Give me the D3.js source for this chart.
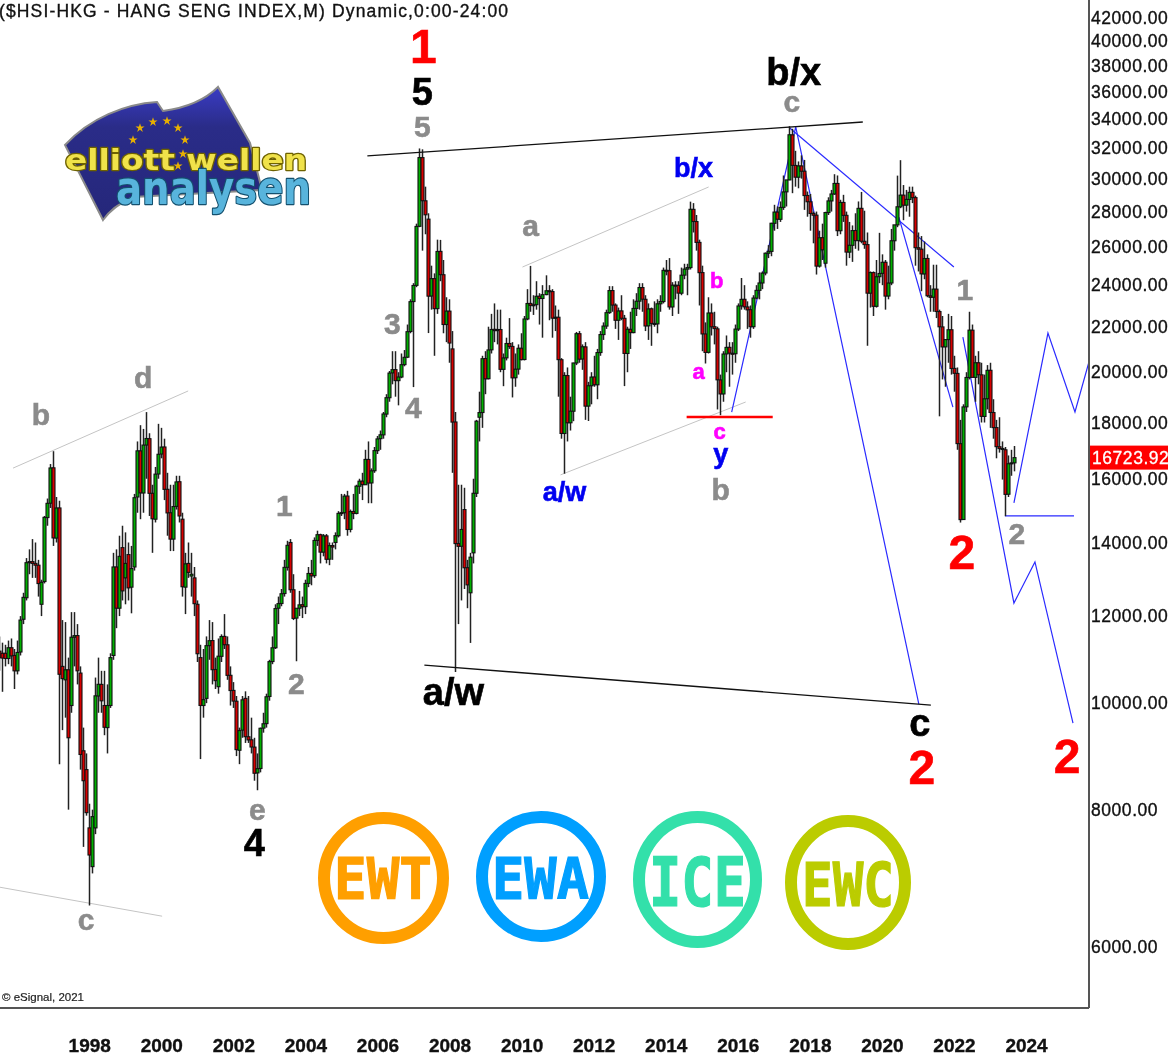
<!DOCTYPE html>
<html>
<head>
<meta charset="utf-8">
<script src="https://cdn.jsdelivr.net/npm/d3@7"></script>
<style>
	html, body { margin: 0; padding: 0; background: #fff; }
	svg { display: block; font-family: "Liberation Sans", Arial, sans-serif; filter: blur(0.35px); }
	.wave { font-weight: bold; text-anchor: middle; dominant-baseline: central; stroke-width: 0.6; }
	.axis text { fill: #111; stroke: #111; stroke-width: 0.35; }
	.axis path, .axis line { display: none; }
</style>
</head>
<body>
<div id="chart"></div>
<script>
// monthly bars, first bar is Feb 1996, last is Apr 2024
const opens = [
	11150,11100,11100,10980,11230,11050,10700,11130,11920,12470,13420,
	13450,13400,13350,12300,12900,14750,15200,16370,14130,15050,10800,10500,
	10723,9950,11480,11520,10650,9050,8700,7700,7100,7700,10150,10400,
	9950,9500,9950,11050,13300,12200,13850,13000,13650,12750,13300,15400,
	16962,15530,17170,17400,15520,14700,16160,16850,17100,15650,14900,14100,
	15100,15900,14700,12750,13400,13050,13000,12300,11000,9950,10100,11280,
	11400,10730,10350,11030,11500,11300,10600,10270,10040,9060,9450,10100,
	9320,9260,9120,8640,8720,9490,9580,10140,10910,11230,12200,12320,
	12580,13290,14000,12680,11950,12200,12290,12240,12850,13120,13060,14060,
	14230,13720,14195,13520,13910,14000,14200,14880,14900,15430,14390,14940,
	14880,15750,15920,15800,16660,15860,16270,16970,17400,17540,18320,18960,
	19970,20110,19650,19800,20320,20640,21780,23190,23990,27150,31350,28640,
	27560,23460,24330,22850,25760,24530,22100,22730,21000,18020,13970,13890,
	15000,13280,12600,13700,15520,18200,18380,20580,19730,20960,21880,21820,
	21870,20120,20610,21240,21110,19770,20130,21030,20540,22360,23100,23000,
	23040,23450,23340,23530,23720,23680,22400,22440,20530,17590,19860,17990,
	18430,20390,21680,20560,21090,18630,19440,19800,19480,20840,21640,22030,
	22660,23730,23020,22300,22740,22390,20800,21880,21730,22860,23210,23880,
	23300,22040,22840,22150,22130,23080,23190,24760,24740,22930,24000,23990,
	23600,24510,24820,24900,28130,27420,26250,24640,21670,20850,22640,22000,
	21900,19680,19110,20780,21070,20810,20790,21890,22980,23300,22930,22800,
	22000,23360,23740,24110,24620,25660,25760,27320,27970,27550,28250,29180,
	29920,32880,30840,30090,30810,30470,28960,28580,27890,27790,24980,26510,
	25130,27940,28630,29050,29700,26900,28540,27780,25720,26090,26910,26350,
	28190,26310,26130,23600,24640,22960,24430,24600,25180,23460,24110,26340,
	27230,28280,28980,28380,28720,29150,28830,25960,25880,24570,25380,23470,
	23400,23800,22710,21990,21090,21415,21860,20160,19950,17220,14690,18600,
	19780,21840,19785,20400,19890,18230,18920,20080,18380,17810,17110,17040,
	17000,15490,16510,16541
];
const highs = [
	11500,11350,11300,11400,11450,11200,11400,12000,12600,13550,13800,
	14100,14000,13500,12950,14800,15350,16500,16950,15400,15280,11900,11850,
	11000,12100,12100,11800,10800,9500,9000,8100,8000,10550,11000,10700,
	10700,10400,11100,13700,13800,14200,14500,14300,14000,13900,15500,17300,
	17900,17760,18397,17600,15800,16400,17950,17800,17400,16200,15800,15800,
	16100,16100,14900,13700,14000,13700,13300,12400,11300,11200,11500,11900,
	11850,11000,11450,11550,12050,11500,10800,10450,10150,9500,10150,10250,
	10150,9700,9300,9000,9500,9800,10200,10950,11500,12300,12500,12700,
	13500,14050,14100,13100,12100,12650,12500,12950,13300,13500,14150,14350,
	14260,14250,14250,14000,14000,14300,14950,15500,15500,15600,15000,15500,
	15800,16000,16200,17000,17300,16350,17100,17500,17700,18400,19100,20050,
	20900,20900,20000,20800,20950,22100,23300,24100,27300,31958,31900,29500,
	27900,25000,24600,26400,26387,25300,23400,23300,21800,18400,15800,15800,
	15700,13500,13700,16000,18100,19200,20700,20900,22000,22600,23100,22800,
	22800,20800,21500,22400,21300,20800,21200,21700,22500,23800,24988,23500,
	24200,23600,24000,24500,24000,23800,23000,22800,20600,20000,20200,19000,
	20400,21760,21800,21200,21300,19600,20000,20700,21000,21800,22200,22800,
	23950,23950,23100,22900,23500,22550,22000,22700,23300,23600,24100,24100,
	23500,23100,22900,23200,23300,23500,24900,25300,25400,24150,24200,24200,
	24900,25100,25100,28588,28500,27800,26400,25000,22200,23400,23100,22700,
	22000,19900,20900,21600,21300,21300,22100,23100,24364,24000,23200,23000,
	23500,24000,24650,24700,25700,26100,27350,28400,28300,28600,30199,29700,
	33484,33300,31800,31100,31500,31200,29200,29050,28000,28000,26900,27300,
	27990,28850,29300,30280,30200,28700,29000,28000,27400,27200,27900,28600,
	29175,28050,26800,24700,24700,25300,26780,25600,25300,25000,27000,27200,
	30190,31183,29600,29300,29500,29500,28950,26800,26600,26300,25600,24000,
	25050,25050,22800,22500,21400,22600,22500,20700,20200,18100,18700,20000,
	22700,22100,20700,20900,20400,19900,20300,20400,18900,18100,18200,17300,
	17100,16800,17000,17135
];
const lows = [
	10700,10240,10800,10850,10800,10300,10620,11050,11800,12400,13100,
	13000,13000,12500,12000,12850,14500,15050,13900,14000,8800,9450,9700,
	8000,9800,10800,10400,8700,7400,7900,6545,7000,7600,9800,9800,
	9350,9000,9900,10950,11700,12000,12400,12300,12400,12070,13200,14900,
	14700,14900,16000,14800,13700,14600,16000,16700,15300,14200,13750,13750,
	15000,14600,12500,12050,13000,12500,12000,10900,8894,9700,10000,10950,
	10400,10300,10200,10900,11200,10500,9950,9900,8950,8800,9300,9200,
	9200,9000,8500,8332,8650,9400,9500,10050,10850,11200,11800,12250,
	12500,13200,12600,11900,10917,12000,11950,12050,12750,12800,13000,13900,
	13400,13600,13400,13350,13500,13800,14150,14800,14700,14200,14300,14700,
	14850,15500,15300,15800,15200,15200,16200,16850,17000,17400,18200,18800,
	19500,19000,18659,19750,20250,20600,21700,19386,23900,27100,25800,26700,
	21709,22800,20700,22600,24200,21700,21300,20400,16200,10676,11800,12400,
	12700,12200,11344,13400,15400,17300,17800,19100,19700,20800,21300,21200,
	20000,19423,20500,21000,18971,19400,19900,20500,20500,22300,22700,22550,
	22800,22100,21500,23500,22300,21500,21800,19000,17400,16170,17300,17700,
	18050,20300,20400,20100,18100,18056,18700,19400,18900,20700,21400,21900,
	22600,22700,21900,21400,22300,19426,20000,21000,21700,22500,22800,22700,
	21800,21400,21137,22000,21700,22700,23100,24500,22800,22500,23300,22600,
	23500,24300,23500,24800,26800,25800,23000,20900,20368,20800,21600,21200,
	18500,18278,18800,20000,19400,19900,20400,21800,22800,22800,21900,21500,
	21900,23300,23300,23800,24500,25400,25500,26900,27000,27400,28100,28300,
	29900,29100,29500,29400,30000,28100,27700,26900,26200,24540,24900,25300,
	24900,27800,28000,29000,26600,26700,27400,25000,25400,25200,25900,25800,
	26200,25900,21139,22900,22500,22900,24100,24000,22800,23300,24000,25800,
	27100,28200,27500,28000,27700,28500,25000,24700,23700,24300,23400,22700,
	22700,22400,18235,19700,19400,20400,19900,19200,17000,14597,14700,18400,
	19700,19800,18800,19500,18000,18000,18500,17800,17400,16700,16900,15972,
	14794,15400,16100,16250
];
const closes = [
	11000,10990,10980,11230,11040,10700,11120,11900,12480,13420,13450,
	13400,13350,12846,12880,14757,15197,16365,14135,15049,10623,10527,10723,
	9300,11480,11519,10700,8980,8500,7950,7275,7884,10154,10402,10048,
	9507,9950,11000,13300,12200,13600,12650,13400,12730,13256,15377,16962,
	15532,17169,17407,15519,14713,16155,16841,17097,15648,14895,14100,15095,
	15893,14800,12761,13387,13150,13100,12316,11090,9951,10073,11279,11397,
	10725,10482,11033,11497,11301,10599,10267,10043,9072,9441,10069,9321,
	9258,9122,8634,8717,9487,9577,10134,10908,11229,12190,12317,12575,
	13289,13917,12681,11942,12198,12285,12238,12850,13120,13054,14060,14230,
	13721,14195,13516,13908,13867,14201,14880,14903,15428,14386,14937,14876,
	15753,15918,15805,16661,15857,16267,16971,17392,17543,18324,18960,19964,
	20106,19651,19800,20318,20634,21772,23184,23984,27142,31352,28643,27812,
	23455,24331,22849,25755,24533,22102,22731,21261,18016,13968,13888,14387,
	13278,12811,13576,15520,18050,18378,20573,19724,20955,21872,21821,21872,
	20121,20608,21239,21108,19765,20128,21029,20536,22358,23096,23007,23035,
	23447,23338,23527,23720,23684,22398,22440,20534,17592,19864,17989,18434,
	20390,21680,20555,21094,18629,19441,19796,19482,20840,21641,22030,22656,
	23729,23020,22299,22737,22392,20803,21883,21731,22859,23206,23881,23306,
	22035,22836,22151,22133,23081,23190,24756,24742,22932,23998,23987,23605,
	24507,24823,24900,28133,27424,26250,24636,21670,20846,22640,21996,21914,
	19683,19111,20776,21067,20815,20794,21891,22976,23297,22934,22790,22000,
	23361,23740,24111,24615,25660,25764,27323,27970,27554,28245,29177,29919,
	32887,30844,30093,30808,30468,28955,28583,27888,27788,24979,26506,25845,
	27942,28633,29051,29699,26901,28542,27777,25724,26092,26906,26346,28189,
	26312,26129,23603,24643,22961,24427,24595,25177,23459,24107,26341,27231,
	28283,28980,28378,28724,29151,28827,25961,25878,24575,25377,23475,23397,
	23802,22713,21996,21089,21415,21859,20156,19954,17222,14687,18597,19781,
	21842,19785,20400,19894,18234,18916,20078,18382,17809,17112,17043,17047,
	15485,16511,16541,16723.92
];

const lastPrice = 16723.92;
const priceTicks = [6000, 8000, 10000, 12000, 14000, 16000, 18000, 20000, 22000, 24000, 26000, 28000, 30000, 32000, 34000, 36000, 38000, 40000, 42000];
const yearTicks = [1998, 2000, 2002, 2004, 2006, 2008, 2010, 2012, 2014, 2016, 2018, 2020, 2022, 2024];

// drawn lines, each point is [bar number, price]
const blackLines = [
	[[122.67, 31460], [287.67, 33780]],
	[[141.67, 10830], [310.33, 9960]]
];
const grayLines = [
	[[4.67, 16360], [63, 19230]],
	[[0.33, 6800], [54.33, 6400]],
	[[174.33, 24930], [236.33, 29480]],
	[[187, 16130], [248.67, 18790]]
];
const redLines = [
	[[229, 18210], [257.67, 18210]]
];
const blueLines = [
	[[244, 18400], [265.33, 33430], [306.33, 9980]],
	[[263.33, 33360], [318, 24930]],
	[[299.67, 27680], [317.67, 18590]],
	[[321, 21530], [338, 12330], [345, 13440], [357.67, 9590]],
	[[338, 15210], [349.33, 21710], [358.33, 18400], [363.33, 20600]],
	[[335, 14800], [358, 14800]]
];

// wave counts
const waveText = ['1', '5', '5', 'b/x', 'c', 'b/x', 'a', 'b', 'a', 'c', 'y', 'b', 'a/w', '3', '4', '1', '2', 'b', 'd', 'c', 'e', '4', 'a/w', 'c', '2', '2', '1', '2', '2'];
const waveBar = [141.33, 141, 141, 264.67, 264, 231.33, 177, 239, 233, 240, 240.33, 240.33, 188.33, 131, 138, 95, 99, 14, 48, 29, 86, 85, 151.33, 306.67, 307.33, 320.67, 321.67, 339, 355.67];
const wavePrice = [39600, 35970, 33430, 37510, 35230, 30680, 27170, 24260, 20010, 17680, 16850, 15630, 15560, 22170, 18560, 15140, 10430, 18320, 19760, 6350, 8010, 7460, 10230, 9590, 8730, 13700, 23760, 14280, 8950];
const waveDegree = ['top', 'major', 'minor', 'major', 'minor', 'sub', 'minor', 'micro', 'micro', 'micro', 'sub', 'minor', 'sub', 'minor', 'minor', 'minor', 'minor', 'minor', 'minor', 'minor', 'minor', 'major', 'major', 'major', 'top', 'top', 'minor', 'minor', 'top'];

const degreeStyle = {
	top: { fill: '#ff0000', size: 48 },
	major: { fill: '#000', size: 38 },
	minor: { fill: '#8b8b8b', size: 30 },
	sub: { fill: '#0000f0', size: 27 },
	micro: { fill: '#ff00ff', size: 22 }
};

const badgeText = ['EWT', 'EWA', 'ICE', 'EWC'];
const badgeColor = ['#ff9f00', '#009fff', '#33e0aa', '#bbcc00'];
const badgeBox = [[318, 812, 131, 132], [476, 811, 130, 131], [633, 811, 129, 137], [785, 815, 126, 135]];
const badgeTextBox = [[334, 857, 98, 42], [492, 857, 97, 42], [649, 856, 97, 50], [802, 862, 92, 44]];

const starPos = [[140, 128], [153, 122], [167, 121], [178, 128], [185, 140], [183, 154], [178, 166], [133, 140]];

const width = 1168;
const height = 1056;
const plotRight = 1089;
const plotBottom = 1008;

const scaleX = d3.scaleLinear().domain([0, 363]).range([-1, plotRight]);
const scaleY = d3.scaleLog().domain([6000, 42000]).range([947, 18]);

const bars = closes.map((c, i) => ({ i, open: opens[i], high: highs[i], low: lows[i], close: c }));

const $svg = d3.select('#chart').append('svg')
	.attr('width', width)
	.attr('height', height);

const $defs = $svg.append('defs');
$defs.append('clipPath').attr('id', 'plot')
	.append('rect').attr('width', plotRight).attr('height', plotBottom);
const flagFill = $defs.append('linearGradient').attr('id', 'flag')
	.attr('x1', 0).attr('y1', 0).attr('x2', 0).attr('y2', 1);
flagFill.append('stop').attr('offset', '0%').attr('stop-color', '#3a3cc4');
flagFill.append('stop').attr('offset', '30%').attr('stop-color', '#2a2c88');
flagFill.append('stop').attr('offset', '100%').attr('stop-color', '#25277a');

const $plot = $svg.append('g').attr('clip-path', 'url(#plot)');

const lineGen = d3.line().x(d => scaleX(d[0])).y(d => scaleY(d[1]));

function drawLines($g, lines, color, w) {
	$g.selectAll(null).data(lines).join('path')
		.attr('d', lineGen)
		.attr('fill', 'none')
		.attr('stroke', color)
		.attr('stroke-width', w);
}

drawLines($plot.append('g'), grayLines, '#c4c4c4', 1);
drawLines($plot.append('g'), blueLines, '#2a2aff', 1.2);

// candles
const $wicks = $plot.append('g');
$wicks.selectAll('line').data(bars).join('line')
	.attr('x1', d => Math.round(scaleX(d.i)) + 0.5)
	.attr('x2', d => Math.round(scaleX(d.i)) + 0.5)
	.attr('y1', d => scaleY(d.high))
	.attr('y2', d => scaleY(d.low))
	.attr('stroke', '#222')
	.attr('stroke-width', 1.5);

const $bodies = $plot.append('g');
$bodies.selectAll('rect').data(bars).join('rect')
	.attr('x', d => Math.round(scaleX(d.i)) - 1)
	.attr('width', 3)
	.attr('y', d => Math.min(scaleY(d.open), scaleY(d.close)))
	.attr('height', d => Math.max(1, Math.abs(scaleY(d.open) - scaleY(d.close))))
	.attr('fill', d => (d.close >= d.open ? '#00b000' : '#d80000'))
	.attr('stroke', '#111')
	.attr('stroke-width', 1.1);

drawLines($plot.append('g'), blackLines, '#111', 1.3);
drawLines($plot.append('g'), redLines, '#ff0000', 2.4);

// logo
const $logo = $svg.append('g');
$logo.append('path')
	.attr('d', 'M65,145 C90,118 125,104 157,102 L163,111 C185,108 205,100 218,87 L250,143 L262,190 L133,197 C122,202 110,210 103,220 Z')
	.attr('fill', 'url(#flag)')
	.attr('stroke', '#8a8a8a')
	.attr('stroke-width', 2);
$logo.selectAll('path.star').data(starPos).join('path')
	.attr('class', 'star')
	.attr('d', d3.symbol(d3.symbolStar, 26))
	.attr('transform', d => `translate(${d[0]},${d[1]})`)
	.attr('fill', '#e8b000');

function tubeText(txt, x, y, len, size, dark, light) {
	$logo.append('text')
		.attr('x', x).attr('y', y)
		.attr('textLength', len).attr('lengthAdjust', 'spacingAndGlyphs')
		.attr('font-family', '"DejaVu Sans", sans-serif')
		.attr('font-weight', 'bold')
		.attr('font-size', size)
		.attr('fill', light)
		.attr('stroke', dark)
		.attr('stroke-width', 2.4)
		.attr('stroke-linejoin', 'round')
		.attr('paint-order', 'stroke')
		.text(txt);
}
tubeText('elliott wellen', 65, 170, 242, 29, '#6e6200', '#f0e24a');
tubeText('analysen', 116, 204, 195, 46, '#14506e', '#58b4dc');

// wave labels
$svg.append('g').selectAll('text').data(waveText).join('text')
	.attr('class', 'wave')
	.attr('x', (d, i) => scaleX(waveBar[i]))
	.attr('y', (d, i) => scaleY(wavePrice[i]))
	.attr('fill', (d, i) => degreeStyle[waveDegree[i]].fill)
	.attr('stroke', (d, i) => degreeStyle[waveDegree[i]].fill)
	.attr('font-size', (d, i) => degreeStyle[waveDegree[i]].size)
	.text(d => d);

// round badges at the bottom
const $badge = $svg.append('g').selectAll('g').data(badgeText).join('g');
$badge.append('ellipse')
	.attr('cx', (d, i) => badgeBox[i][0] + badgeBox[i][2] / 2)
	.attr('cy', (d, i) => badgeBox[i][1] + badgeBox[i][3] / 2)
	.attr('rx', (d, i) => badgeBox[i][2] / 2 - 6)
	.attr('ry', (d, i) => badgeBox[i][3] / 2 - 6)
	.attr('fill', 'none')
	.attr('stroke', (d, i) => badgeColor[i])
	.attr('stroke-width', 12);
$badge.append('text')
	.attr('x', (d, i) => badgeTextBox[i][0])
	.attr('y', (d, i) => badgeTextBox[i][1] + badgeTextBox[i][3])
	.attr('textLength', (d, i) => badgeTextBox[i][2])
	.attr('lengthAdjust', 'spacingAndGlyphs')
	.attr('font-family', '"DejaVu Sans Mono", monospace')
	.attr('font-weight', 'bold')
	.attr('font-size', (d, i) => badgeTextBox[i][3] / 0.73)
	.attr('fill', (d, i) => badgeColor[i])
	.attr('stroke', (d, i) => badgeColor[i])
	.attr('stroke-width', 1.2)
	.text(d => d);

// frame
$svg.append('line')
	.attr('x1', plotRight).attr('x2', plotRight).attr('y1', 0).attr('y2', plotBottom)
	.attr('stroke', '#555').attr('stroke-width', 2);
$svg.append('line')
	.attr('x1', 0).attr('x2', plotRight).attr('y1', plotBottom).attr('y2', plotBottom)
	.attr('stroke', '#555').attr('stroke-width', 2);

// axes
const axisY = d3.axisRight(scaleY)
	.tickValues(priceTicks)
	.tickSize(0)
	.tickPadding(2)
	.tickFormat(d => d.toFixed(2));
$svg.append('g').attr('class', 'axis')
	.attr('transform', `translate(${plotRight},0)`)
	.call(axisY)
	.selectAll('text')
	.attr('font-size', 17.5)
	.attr('letter-spacing', 0.55);

const axisX = d3.axisBottom(scaleX)
	.tickValues(yearTicks.map(y => (y - 1996) * 12 - 1))
	.tickSize(0)
	.tickPadding(0)
	.tickFormat(d => String(1996 + (d + 1) / 12));
$svg.append('g').attr('class', 'axis')
	.attr('transform', 'translate(0,1038)')
	.call(axisX)
	.selectAll('text')
	.attr('font-size', 19)
	.attr('font-weight', 'bold')
	.attr('text-anchor', 'start');

// last price tag
$svg.append('rect')
	.attr('x', plotRight + 1).attr('width', width - plotRight)
	.attr('y', scaleY(lastPrice) - 12).attr('height', 24)
	.attr('fill', '#ff0000');
$svg.append('text')
	.attr('x', plotRight + 3).attr('y', scaleY(lastPrice))
	.attr('dy', '0.35em')
	.attr('font-size', 17.5)
	.attr('letter-spacing', 0.55)
	.attr('fill', '#fff')
	.attr('stroke', '#fff').attr('stroke-width', 0.3)
	.text(lastPrice.toFixed(2));

// header and credit
$svg.append('text')
	.attr('x', -1).attr('y', 17)
	.attr('font-size', 17.5)
	.attr('textLength', 509)
	.attr('fill', '#111').attr('stroke', '#111').attr('stroke-width', 0.35)
	.text('($HSI-HKG - HANG SENG INDEX,M) Dynamic,0:00-24:00');
$svg.append('text')
	.attr('x', 2).attr('y', 1001)
	.attr('font-size', 11.5)
	.attr('fill', '#222').attr('stroke', '#222').attr('stroke-width', 0.2)
	.text('© eSignal, 2021');
</script>
</body>
</html>
